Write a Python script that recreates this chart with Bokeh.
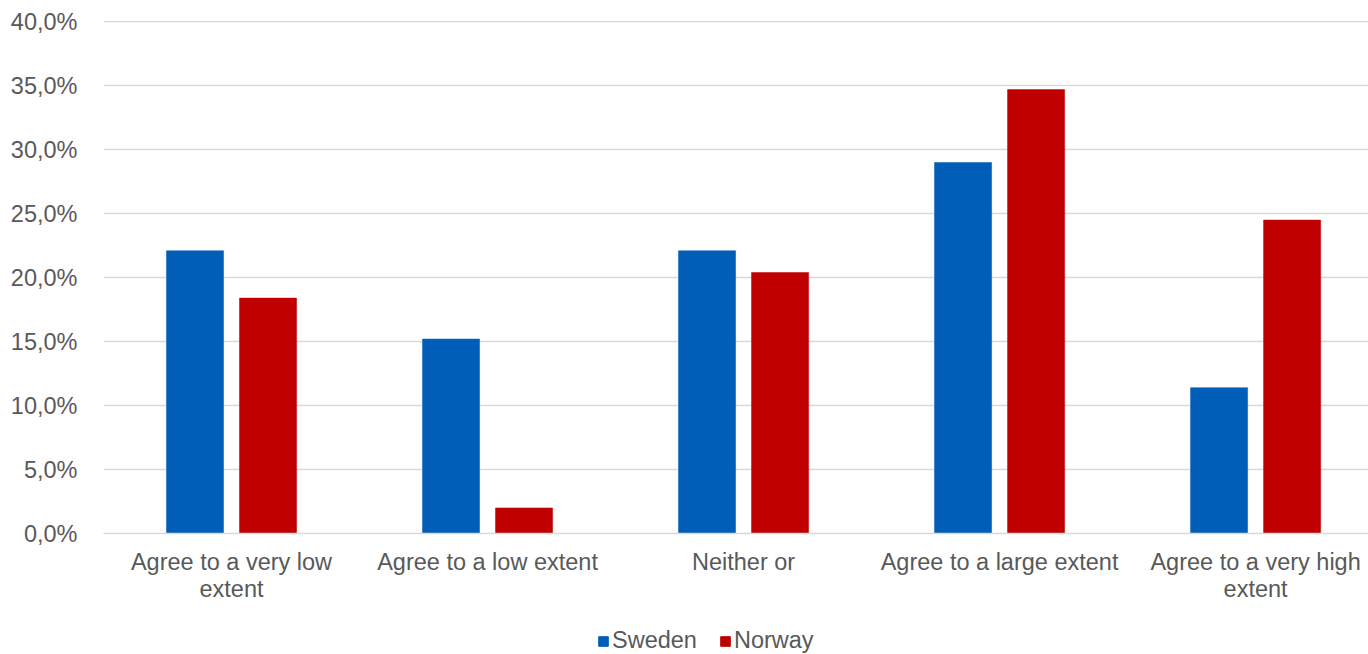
from bokeh.plotting import figure
from bokeh.layouts import column
from bokeh.models import (ColumnDataSource, Range1d, FixedTicker, CustomJSTickFormatter,
                          Legend, LegendItem)
from bokeh.transform import dodge
from bokeh.embed import file_html
from bokeh.resources import INLINE

# Survey responses, share of respondents (%)
categories = [
    "Agree to a very low\nextent",
    "Agree to a low extent",
    "Neither or",
    "Agree to a large extent",
    "Agree to a very high\nextent",
]
series = ["Sweden", "Norway"]
sweden = [22.1, 15.2, 22.1, 29.0, 11.4]
norway = [18.4, 2.0, 20.4, 34.7, 24.5]
y_ticks = [0, 5, 10, 15, 20, 25, 30, 35, 40]

FONT = "Liberation Sans"
TEXT_COLOR = "#595959"
BLUE = "#005EB8"
RED = "#C00000"
FONT_SIZE = "23.5px"

source = ColumnDataSource(dict(
    pos=list(range(len(categories))),
    sweden=sweden,
    norway=norway,
))

p = figure(
    width=1368, height=605,
    x_range=Range1d(-0.5, 4.441),
    y_range=Range1d(0, 40.1),
    output_backend="svg",
    toolbar_location=None,
    min_border_left=103, min_border_right=0,
    min_border_top=20, min_border_bottom=72,
)
p.outline_line_color = None
p.background_fill_color = "white"
p.border_fill_color = "white"

bw = 0.223
p.vbar(x=dodge("pos", -0.1426, range=p.x_range), top="sweden", width=bw,
       source=source, fill_color=BLUE, line_color=BLUE, line_width=0.5)
p.vbar(x=dodge("pos", 0.1426, range=p.x_range), top="norway", width=bw,
       source=source, fill_color=RED, line_color=RED, line_width=0.5)

# Y axis: percentages with decimal comma
p.yaxis.ticker = FixedTicker(ticks=y_ticks)
p.yaxis.formatter = CustomJSTickFormatter(
    code="return tick.toFixed(1).replace('.', ',') + '%';")
p.yaxis.axis_line_color = None
p.yaxis.major_tick_line_color = None
p.yaxis.minor_tick_line_color = None
p.yaxis.major_label_standoff = 20
p.yaxis.major_label_text_font = FONT
p.yaxis.major_label_text_font_size = FONT_SIZE
p.yaxis.major_label_text_color = TEXT_COLOR

# X axis: category labels
p.xaxis.ticker = FixedTicker(ticks=list(range(len(categories))))
p.xaxis.major_label_overrides = {i: c for i, c in enumerate(categories)}
p.xaxis.axis_line_color = "#D9D9D9"
p.xaxis.axis_line_width = 1.5
p.xaxis.major_tick_line_color = None
p.xaxis.minor_tick_line_color = None
p.xaxis.major_label_standoff = 9
p.xaxis.major_label_text_font = FONT
p.xaxis.major_label_text_font_size = FONT_SIZE
p.xaxis.major_label_text_color = TEXT_COLOR
p.xaxis.major_label_text_line_height = 1.07

p.xgrid.grid_line_color = None
p.ygrid.grid_line_color = "#D9D9D9"
p.ygrid.grid_line_width = 1.5

# Legend strip below the chart; the key swatches sit outside the strip's visible range
lg = figure(
    width=1368, height=49,
    x_range=Range1d(0, 1), y_range=Range1d(0, 1),
    x_axis_type=None, y_axis_type=None,
    output_backend="svg", toolbar_location=None,
    min_border=0,
)
lg.outline_line_color = None
lg.xgrid.grid_line_color = None
lg.ygrid.grid_line_color = None
key_sw = lg.quad(left=[5], right=[6], top=[6], bottom=[5], fill_color=BLUE, line_color=BLUE)
key_no = lg.quad(left=[5], right=[6], top=[6], bottom=[5], fill_color=RED, line_color=RED)

legend = Legend(
    items=[LegendItem(label=series[0], renderers=[key_sw]),
           LegendItem(label=series[1], renderers=[key_no])],
    orientation="horizontal",
    location=(494, 0),
    label_text_font=FONT,
    label_text_font_size=FONT_SIZE,
    label_text_color=TEXT_COLOR,
    glyph_width=12, glyph_height=12,
    label_standoff=3,
    spacing=22,
    padding=0,
    margin=0,
    border_line_color=None,
    background_fill_alpha=0,
)
lg.add_layout(legend, "center")

layout = column(p, lg, spacing=0)
open("out.html", "w").write(file_html(layout, INLINE))
